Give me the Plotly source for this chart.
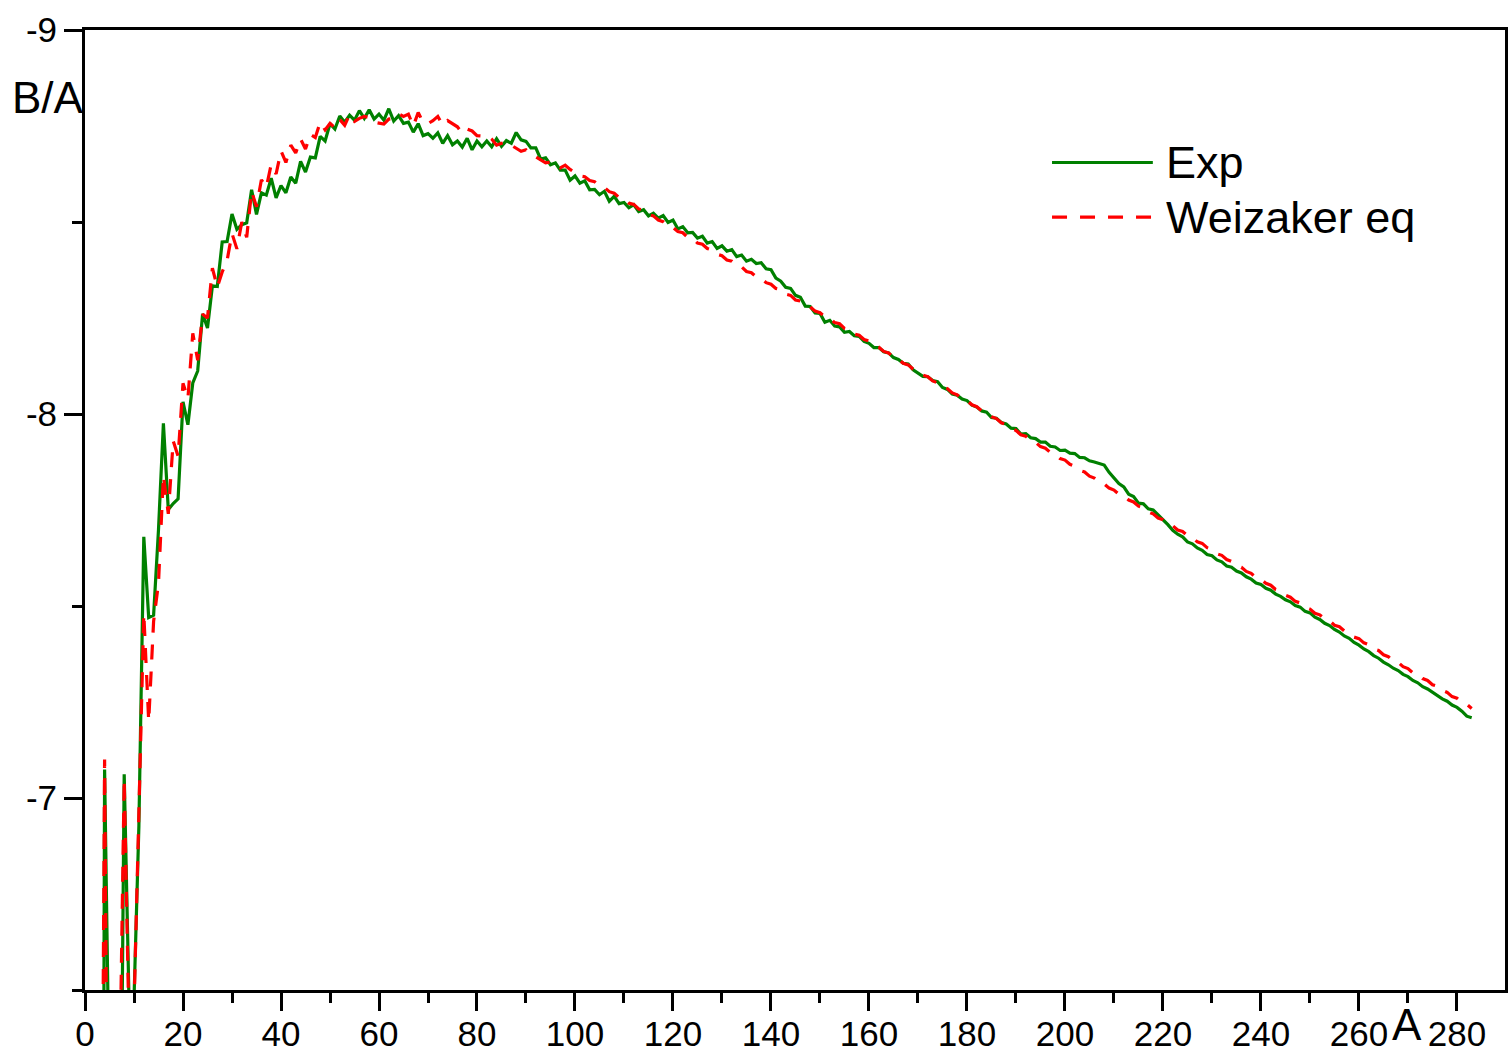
import plotly.graph_objects as go

# Mass number A
mass_number = list(range(1, 284))

# Experimental binding energy per nucleon (MeV), shown as negative values
exp_ba = [
    0.0, -1.112, -2.827, -7.074, -5.512, -5.332, -5.606, -7.062, -6.463, -6.475,
    -6.928, -7.680, -7.470, -7.476, -7.699, -7.976, -7.751, -7.767, -7.779, -8.032,
    -7.972, -8.081, -8.112, -8.261, -8.224, -8.334, -8.332, -8.448, -8.449, -8.521,
    -8.481, -8.493, -8.498, -8.584, -8.520, -8.576, -8.570, -8.614, -8.563, -8.595,
    -8.576, -8.617, -8.601, -8.658, -8.630, -8.669, -8.667, -8.723, -8.711, -8.756,
    -8.742, -8.776, -8.760, -8.778, -8.765, -8.790, -8.770, -8.792, -8.768, -8.781,
    -8.765, -8.795, -8.763, -8.777, -8.757, -8.760, -8.734, -8.756, -8.725, -8.730,
    -8.718, -8.732, -8.705, -8.725, -8.701, -8.711, -8.695, -8.718, -8.688, -8.711,
    -8.696, -8.711, -8.696, -8.717, -8.697, -8.712, -8.705, -8.733, -8.714, -8.710,
    -8.693, -8.693, -8.664, -8.667, -8.649, -8.654, -8.635, -8.635, -8.609, -8.620,
    -8.601, -8.607, -8.584, -8.585, -8.571, -8.580, -8.554, -8.567, -8.548, -8.551,
    -8.537, -8.545, -8.527, -8.532, -8.516, -8.523, -8.510, -8.517, -8.499, -8.505,
    -8.482, -8.488, -8.472, -8.473, -8.458, -8.463, -8.445, -8.449, -8.431, -8.438,
    -8.424, -8.428, -8.410, -8.414, -8.398, -8.403, -8.392, -8.394, -8.378, -8.376,
    -8.354, -8.346, -8.330, -8.327, -8.309, -8.304, -8.281, -8.280, -8.263, -8.262,
    -8.239, -8.244, -8.229, -8.227, -8.213, -8.215, -8.204, -8.202, -8.189, -8.184,
    -8.173, -8.173, -8.162, -8.159, -8.147, -8.142, -8.132, -8.130, -8.115, -8.106,
    -8.098, -8.097, -8.087, -8.084, -8.069, -8.064, -8.052, -8.049, -8.039, -8.035,
    -8.023, -8.018, -8.008, -8.005, -7.991, -7.989, -7.978, -7.974, -7.963, -7.962,
    -7.948, -7.949, -7.938, -7.936, -7.927, -7.927, -7.916, -7.914, -7.905, -7.906,
    -7.898, -7.897, -7.887, -7.886, -7.878, -7.875, -7.870, -7.867, -7.848, -7.834,
    -7.819, -7.810, -7.791, -7.785, -7.768, -7.766, -7.753, -7.750, -7.738, -7.726,
    -7.712, -7.697, -7.687, -7.680, -7.667, -7.662, -7.651, -7.645, -7.634, -7.631,
    -7.620, -7.615, -7.604, -7.601, -7.591, -7.586, -7.576, -7.570, -7.560, -7.556,
    -7.546, -7.541, -7.531, -7.525, -7.516, -7.511, -7.501, -7.497, -7.486, -7.482,
    -7.471, -7.465, -7.455, -7.449, -7.439, -7.432, -7.422, -7.416, -7.405, -7.398,
    -7.388, -7.381, -7.371, -7.364, -7.354, -7.347, -7.338, -7.332, -7.322, -7.316,
    -7.306, -7.300, -7.290, -7.284, -7.275, -7.268, -7.258, -7.252, -7.242, -7.236,
    -7.226, -7.213, -7.209,
]

weiz_ba = [
    -3.0, -4.0, -5.0, -7.10, -5.3, -5.5, -6.2, -7.05, -6.39, -6.45,
    -6.95, -7.48, -7.20, -7.46, -7.56, -7.84, -7.74, -7.93, -7.89, -8.08,
    -8.04, -8.21, -8.14, -8.26, -8.25, -8.38, -8.33, -8.37, -8.40, -8.47,
    -8.43, -8.50, -8.46, -8.58, -8.54, -8.61, -8.59, -8.65, -8.625, -8.685,
    -8.655, -8.70, -8.68, -8.716, -8.69, -8.728, -8.72, -8.76, -8.74, -8.757,
    -8.745, -8.767, -8.752, -8.78, -8.762, -8.77, -8.775, -8.772, -8.760, -8.757,
    -8.755, -8.768, -8.770, -8.782, -8.775, -8.781, -8.750, -8.785, -8.760, -8.756,
    -8.764, -8.775, -8.752, -8.764, -8.757, -8.748, -8.731, -8.742, -8.737, -8.725,
    -8.724, -8.726, -8.716, -8.700, -8.705, -8.708, -8.700, -8.693, -8.684, -8.688,
    -8.676, -8.670, -8.662, -8.654, -8.656, -8.652, -8.641, -8.648, -8.637, -8.628,
    -8.620, -8.618, -8.608, -8.605, -8.594, -8.590, -8.579, -8.575, -8.564, -8.561,
    -8.549, -8.546, -8.534, -8.531, -8.519, -8.516, -8.505, -8.501, -8.490, -8.486,
    -8.475, -8.472, -8.460, -8.457, -8.445, -8.442, -8.431, -8.427, -8.416, -8.412,
    -8.401, -8.398, -8.386, -8.383, -8.371, -8.368, -8.357, -8.353, -8.342, -8.338,
    -8.327, -8.324, -8.312, -8.309, -8.297, -8.294, -8.283, -8.279, -8.268, -8.264,
    -8.253, -8.249, -8.238, -8.235, -8.223, -8.220, -8.208, -8.205, -8.194, -8.190,
    -8.179, -8.174, -8.163, -8.159, -8.148, -8.143, -8.132, -8.128, -8.117, -8.112,
    -8.101, -8.097, -8.086, -8.081, -8.070, -8.066, -8.055, -8.050, -8.039, -8.035,
    -8.024, -8.019, -8.008, -8.004, -7.993, -7.988, -7.977, -7.973, -7.962, -7.957,
    -7.946, -7.942, -7.931, -7.926, -7.915, -7.911, -7.900, -7.895, -7.884, -7.880,
    -7.869, -7.864, -7.853, -7.849, -7.838, -7.833, -7.822, -7.818, -7.807, -7.802,
    -7.791, -7.787, -7.776, -7.771, -7.760, -7.756, -7.745, -7.740, -7.729, -7.725,
    -7.714, -7.709, -7.698, -7.694, -7.683, -7.678, -7.667, -7.663, -7.652, -7.647,
    -7.636, -7.632, -7.621, -7.616, -7.605, -7.601, -7.590, -7.585, -7.574, -7.570,
    -7.559, -7.554, -7.543, -7.539, -7.528, -7.523, -7.512, -7.508, -7.497, -7.492,
    -7.481, -7.477, -7.466, -7.461, -7.450, -7.446, -7.435, -7.430, -7.419, -7.415,
    -7.404, -7.399, -7.388, -7.384, -7.373, -7.368, -7.357, -7.353, -7.342, -7.337,
    -7.326, -7.322, -7.311, -7.306, -7.295, -7.291, -7.280, -7.275, -7.264, -7.260,
    -7.249, -7.244, -7.233,
]

series_names = ["Exp", "Weizaker eq"]
x_tick_values = [0, 20, 40, 60, 80, 100, 120, 140, 160, 180, 200, 220, 240, 260, 280]
x_tick_labels = ["0", "20", "40", "60", "80", "100", "120", "140", "160", "180",
                 "200", "220", "240", "260", "280"]
y_tick_values = [-9, -8, -7]
y_tick_labels = ["-9", "-8", "-7"]

FONT = "Arial, Liberation Sans, sans-serif"
GREEN = "#008000"
RED = "#FF0000"

fig = go.Figure()
fig.add_trace(go.Scatter(x=mass_number, y=exp_ba, mode="lines", name=series_names[0],
                         line=dict(color=GREEN, width=3.2), showlegend=False))
fig.add_trace(go.Scatter(x=mass_number, y=weiz_ba, mode="lines", name=series_names[1],
                         line=dict(color=RED, width=3.2, dash="15px,12px"), showlegend=False))

axis_common = dict(
    showline=True, linecolor="black", linewidth=3, mirror=True,
    showgrid=False, zeroline=False, automargin=False,
    ticks="outside", ticklen=18, tickwidth=3, tickcolor="black",
    tickfont=dict(family=FONT, size=35, color="black"),
)

fig.update_xaxes(
    range=[0, 289.8], tickmode="array", tickvals=x_tick_values, ticktext=x_tick_labels,
    ticklabelstandoff=-7,
    minor=dict(ticks="outside", ticklen=10, tickwidth=3, tickcolor="black", dtick=10, tick0=0),
    **axis_common,
)
fig.update_yaxes(
    range=[-6.5, -9], tickmode="array", tickvals=y_tick_values, ticktext=y_tick_labels,
    minor=dict(ticks="outside", ticklen=10, tickwidth=3, tickcolor="black", dtick=0.5, tick0=-9),
    **axis_common,
)

# Legend drawn manually (long line samples)
fig.add_shape(type="line", xref="paper", yref="paper", x0=0.681, x1=0.752, y0=0.862, y1=0.862,
              line=dict(color=GREEN, width=3.2))
fig.add_shape(type="line", xref="paper", yref="paper", x0=0.681, x1=0.752, y0=0.805, y1=0.805,
              line=dict(color=RED, width=3.2, dash="15px,13px"))
fig.add_annotation(xref="paper", yref="paper", x=0.760, y=0.862, text=series_names[0],
                   showarrow=False, xanchor="left", yanchor="middle",
                   font=dict(family=FONT, size=45, color="black"))
fig.add_annotation(xref="paper", yref="paper", x=0.760, y=0.805, text=series_names[1],
                   showarrow=False, xanchor="left", yanchor="middle",
                   font=dict(family=FONT, size=45, color="black"))

# Axis titles placed like the original
fig.add_annotation(xref="paper", yref="paper", x=-0.026, y=0.930, text="B/A",
                   showarrow=False, xanchor="center", yanchor="middle",
                   font=dict(family=FONT, size=44, color="black"))
fig.add_annotation(xref="paper", yref="paper", x=0.931, y=-0.036, text="A",
                   showarrow=False, xanchor="center", yanchor="middle",
                   font=dict(family=FONT, size=44, color="black"))

fig.update_layout(
    width=1508, height=1056,
    margin=dict(l=85, r=3, t=30, b=66),
    paper_bgcolor="white", plot_bgcolor="white",
    font=dict(family=FONT, color="black"),
)

fig.write_html("out.html")
